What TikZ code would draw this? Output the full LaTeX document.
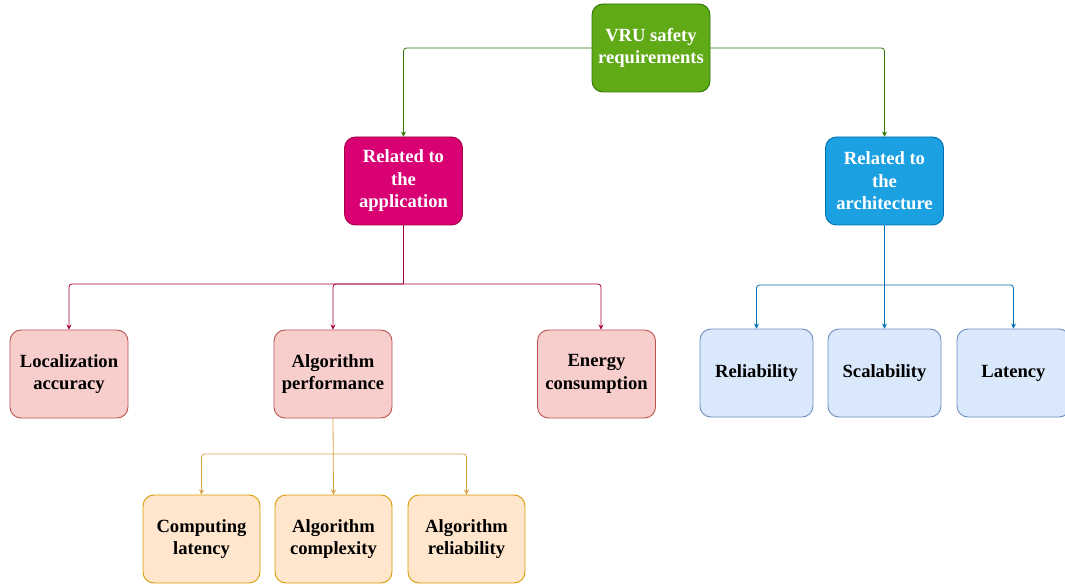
\documentclass[tikz,border=0pt]{standalone}
\usepackage{fontspec}
\setmainfont{Liberation Serif}
\usetikzlibrary{arrows.meta,calc}
\definecolor{gfill}{HTML}{60A917}\definecolor{gdraw}{HTML}{2D7600}
\definecolor{mfill}{HTML}{D80073}\definecolor{mdraw}{HTML}{A50040}
\definecolor{bfill}{HTML}{1BA1E2}\definecolor{bdraw}{HTML}{006EAF}
\definecolor{rfill}{HTML}{F8CECC}\definecolor{rdraw}{HTML}{B85450}
\definecolor{lfill}{HTML}{DAE8FC}\definecolor{ldraw}{HTML}{6C8EBF}
\definecolor{ofill}{HTML}{FFE6CC}\definecolor{odraw}{HTML}{D79B00}
\definecolor{oline}{HTML}{D9A040}
\tikzset{
  box/.style={rectangle, rounded corners=11pt, line width=0.9pt, minimum width=118pt, minimum height=88pt, inner sep=0pt, align=center, font=\fontsize{18.6}{22.5}\selectfont\bfseries},
  gbox/.style={box, fill=gfill, draw=gdraw, text=white},
  mbox/.style={box, fill=mfill, draw=mdraw, text=white},
  bbox/.style={box, fill=bfill, draw=bdraw, text=white},
  rbox/.style={box, fill=rfill, draw=rdraw, text=black},
  lbox/.style={box, fill=lfill, draw=ldraw, text=black, minimum width=113pt},
  obox/.style={box, fill=ofill, draw=odraw, text=black, minimum width=117pt},
  conn/.style={line width=0.8pt, rounded corners=3pt},
  arr/.style={-{Stealth[length=5pt,width=5pt]}},
}
\begin{document}
\begin{tikzpicture}[x=1pt,y=-1pt]
\useasboundingbox (0,0) rectangle (1065,585);
\node[gbox] (vru) at (651,48) {VRU safety\\requirements};
\node[mbox] (app) at (403.5,181) {Related to\\the\\application};
\node[bbox] (arch) at (884.5,181) {Related to\\the\\architecture};
\node[rbox] (loc) at (69,374) {Localization\\accuracy};
\node[rbox] (alg) at (333,374) {Algorithm\\performance};
\node[rbox] (en) at (596.5,374) {Energy\\consumption};
\node[lbox] (rel) at (756.5,373) {Reliability};
\node[lbox] (sca) at (884.5,373) {Scalability};
\node[lbox] (lat) at (1013.5,373) {Latency};
\node[obox] (cl) at (201.5,539) {Computing\\latency};
\node[obox] (ac) at (333.5,539) {Algorithm\\complexity};
\node[obox] (ar) at (466.5,539) {Algorithm\\reliability};
% green
\draw[conn,arr,draw=gdraw] (vru.west) -| (app.north);
\draw[conn,arr,draw=gdraw] (vru.east) -| (arch.north);
% magenta
\coordinate (mbar) at (403.5,284);
\draw[conn,draw=mdraw] (app.south) -- (mbar);
\draw[conn,arr,draw=mdraw] (mbar) -| (loc.north);
\draw[conn,arr,draw=mdraw] (mbar) -| (alg.north);
\draw[conn,arr,draw=mdraw] (mbar) -| ([xshift=4.5pt]en.north);
% blue
\coordinate (bbar) at (884.5,285);
\draw[conn,arr,draw=bdraw] (arch.south) -- (sca.north);
\draw[conn,arr,draw=bdraw] (bbar) -| (rel.north);
\draw[conn,arr,draw=bdraw] (bbar) -| (lat.north);
% orange
\coordinate (obar) at (333,454);
\draw[conn,arr,draw=oline] (alg.south) -- (ac.north);
\draw[conn,arr,draw=oline] (obar) -| (cl.north);
\draw[conn,arr,draw=oline] (obar) -| (ar.north);
\end{tikzpicture}
\end{document}
